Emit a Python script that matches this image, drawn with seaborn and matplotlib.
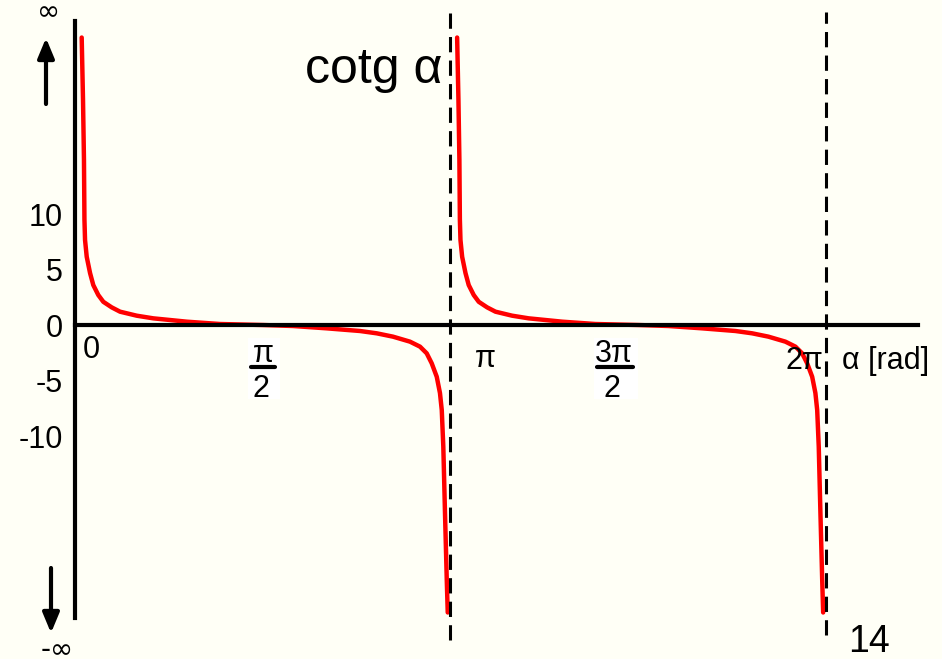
import numpy as np
import pandas as pd
import matplotlib.pyplot as plt
import seaborn as sns
from matplotlib.patches import Rectangle

# one period of the curve (alpha in rad, value)
alpha_branch = [0.056, 0.067, 0.075, 0.079, 0.084, 0.098, 0.126, 0.153, 0.195, 0.237,
                0.307, 0.377, 0.516, 0.655, 0.795, 0.935, 1.213, 1.571,
                1.824, 2.106, 2.385, 2.525, 2.661, 2.803, 2.887, 2.943, 2.985, 3.027,
                3.054, 3.069, 3.082, 3.096, 3.111, 3.119]
cotg_branch = [25.9, 20.3, 14.9, 9.5, 7.66, 6.15, 4.68, 3.60, 2.70, 2.09,
               1.59, 1.20, 0.84, 0.60, 0.45, 0.30, 0.09, 0.0,
               -0.09, -0.30, -0.54, -0.75, -1.05, -1.50, -1.95, -2.55, -3.45, -4.66,
               -6.13, -7.66, -10.96, -16.9, -23.0, -25.9]
periods = [0, 1]

y_ticks = [-10, -5, 0, 5, 10]
y_ticklabels = ['-10', '-5', '0', '5', '10']
x_ticks = [np.pi / 2, np.pi, 3 * np.pi / 2, 2 * np.pi]
asymptotes = [np.pi, 2 * np.pi]

df = pd.concat(
    [pd.DataFrame({'alpha': np.array(alpha_branch) + k * np.pi, 'cotg': cotg_branch, 'period': k})
     for k in periods],
    ignore_index=True)

sns.set_style('white')
plt.rcParams['font.family'] = ['Liberation Sans', 'DejaVu Sans']
plt.rcParams['text.color'] = 'black'
bg = '#fffff6'

W, H = 942, 659
fig = plt.figure(figsize=(W / 100, H / 100), dpi=100, facecolor=bg)
ax = fig.add_axes([0, 0, 1, 1], facecolor=bg)


def fp(x, y):
    # picture pixel -> figure fraction
    return x / W, 1 - y / H


# curve
sns.lineplot(data=df, x='alpha', y='cotg', units='period', estimator=None,
             color='red', lw=3.2, ax=ax, legend=False,
             solid_joinstyle='round', solid_capstyle='round')

# asymptotes
for a, top, bot in zip(asymptotes, [28.1, 28.2], [-28.4, -27.9]):
    ax.plot([a, a], [bot, top], color='black', lw=2.2, ls=(0, (5, 2.7)))

ax.set_xlim(-0.6276, 7.255)
ax.set_ylim(-30.09, 29.28)

# axes through the origin
for s in ['top', 'right']:
    ax.spines[s].set_visible(False)
ax.spines['left'].set_position(('data', 0))
ax.spines['bottom'].set_position(('data', 0))
ax.spines['left'].set_bounds(-26.4, 27.4)
ax.spines['bottom'].set_bounds(0, 7.05)
for s in ['left', 'bottom']:
    ax.spines[s].set_linewidth(3)
    ax.spines[s].set_color('black')

ax.set_yticks(y_ticks)
ax.set_yticklabels(y_ticklabels, fontsize=22)
ax.tick_params(axis='y', direction='in', length=6, width=2.5, pad=9,
               colors='black', labelcolor='black')
ax.set_xticks(x_ticks)
ax.set_xticklabels([])
ax.tick_params(axis='x', direction='inout', length=12, width=2.5, colors='black')
ax.set_xlabel('')
ax.set_ylabel('')

# x tick labels
fs = 22
fig.text(*fp(91, 358), '0', fontsize=fs, ha='center', va='baseline')
fig.text(*fp(485, 367), 'π', fontsize=fs, ha='center', va='baseline')
fig.text(*fp(804, 369), '2π', fontsize=fs, ha='center', va='baseline')
fig.text(*fp(842, 369), 'α [rad]', fontsize=fs, ha='left', va='baseline')

# fractions on white patches
for xl, xr, num, xc in [(248, 280, 'π', 263), (594, 638, '3π', 614)]:
    x0, y0 = fp(xl, 399)
    x1, y1 = fp(xr, 338)
    fig.patches.append(Rectangle((x0, y0), x1 - x0, y1 - y0, transform=fig.transFigure,
                                 facecolor='white', edgecolor='none', zorder=1))
    fig.text(*fp(xc, 362), num, fontsize=fs, ha='center', va='baseline', zorder=3)
    bx0, by = fp(xl + 3, 367)
    bx1, _ = fp(xr - 5, 367)
    fig.add_artist(plt.Line2D([bx0, bx1], [by, by], transform=fig.transFigure,
                              color='black', lw=3, zorder=3))
    fig.text(*fp(xc - 2, 397), '2', fontsize=fs, ha='center', va='baseline', zorder=3)

# labels
fig.text(*fp(305, 83), 'cotg α', fontsize=36, ha='left', va='baseline')
fig.text(*fp(848, 652), '14', fontsize=27, ha='left', va='baseline')
fig.text(*fp(49, 20), '∞', fontsize=20, family='DejaVu Sans', ha='center', va='baseline')
fig.text(*fp(57, 658), '-∞', fontsize=20, family='DejaVu Sans', ha='center', va='baseline')

# infinity arrows
arrow = dict(arrowstyle='-|>,head_length=0.6,head_width=0.25', lw=3, color='black',
             mutation_scale=20, shrinkA=0, shrinkB=0)
ax.annotate('', xy=fp(46, 38), xytext=fp(46, 104), xycoords='figure fraction',
            textcoords='figure fraction', arrowprops=arrow)
ax.annotate('', xy=fp(51, 633), xytext=fp(51, 568), xycoords='figure fraction',
            textcoords='figure fraction', arrowprops=arrow)

fig.savefig('out.png', dpi=100, facecolor=bg)
